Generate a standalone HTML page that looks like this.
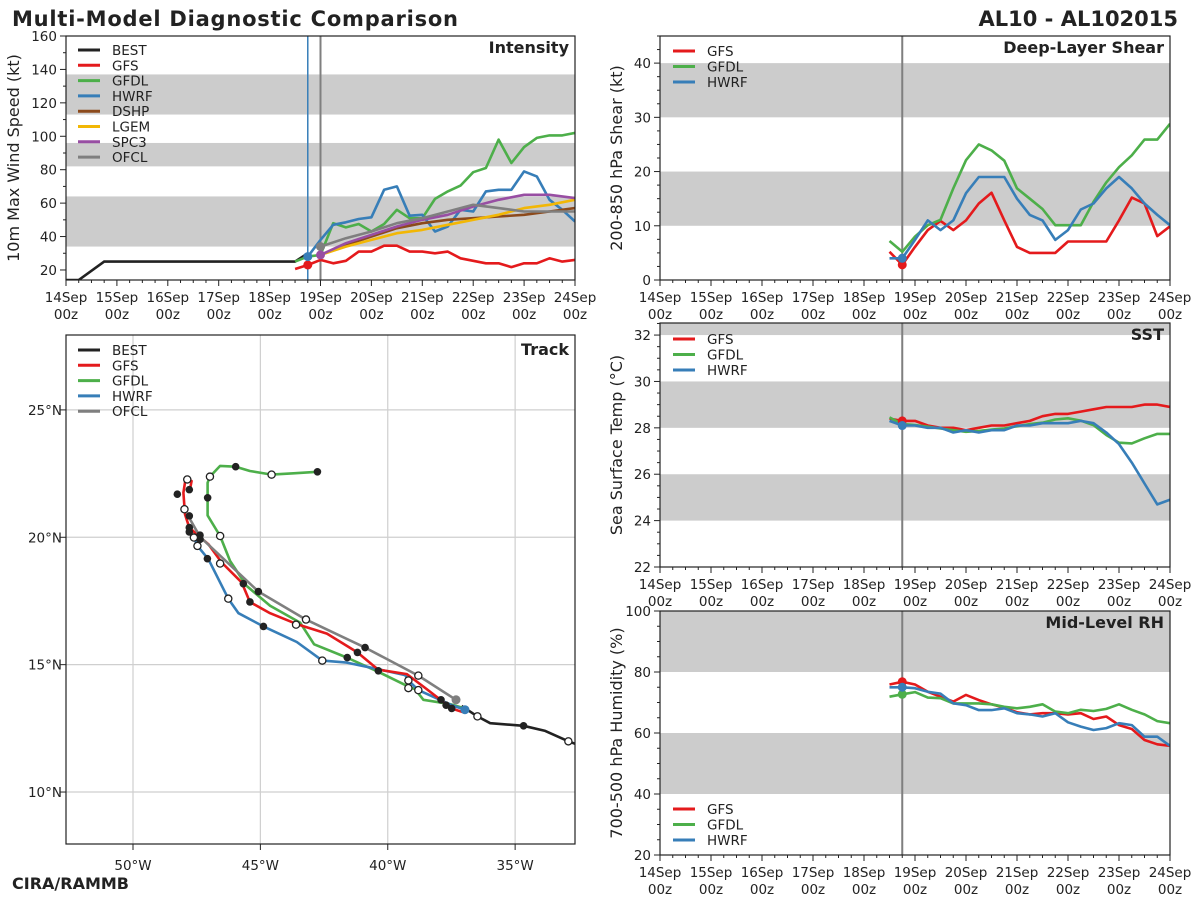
<!DOCTYPE html>
<html><head><meta charset="utf-8"><title>Multi-Model Diagnostic Comparison</title>
<style>
html,body{margin:0;padding:0;background:#fff;}
svg{display:block;font-family:"DejaVu Sans","Liberation Sans",sans-serif;}
</style></head>
<body>
<svg id="chart" xmlns="http://www.w3.org/2000/svg" width="1200" height="900" viewBox="0 0 1200 900">
<text x="12" y="26" font-size="21" font-weight="bold" fill="#222" textLength="446">Multi-Model Diagnostic Comparison</text>
<text x="1178" y="26" font-size="21" font-weight="bold" fill="#222" text-anchor="end">AL10 - AL102015</text>
<text x="12" y="889" font-size="16" font-weight="bold" fill="#222">CIRA/RAMMB</text>
</svg>
<script>
// ---------- data ----------
const dayLabels = ['14Sep','15Sep','16Sep','17Sep','18Sep','19Sep','20Sep','21Sep','22Sep','23Sep','24Sep'];
// intensity (kt) - best track [day, kt]
const bestTimes = [0, 0.25, 0.75, 4.25, 4.5, 4.75];
const bestInt = [14, 14, 25, 25, 25, 30];
// 6-hourly model intensity
const gfsIntStart = 4.5;
const gfsInt = [20.6,23,26,24,25.5,31,31,34.5,34.5,31,31,30,31,27,25.5,24,24,21.7,24,24,27,25,26];
const gfdlIntStart = 4.5;
const gfdlInt = [25,28,29,48,45.5,47.5,43,47.5,56,51,51,62.5,67,70.5,78.5,81,98,84,93.5,99,100.5,100.5,102];
const hwrfIntStart = 4.75;
const hwrfInt = [28,38,47,48.5,50.5,51.5,68,70,52.5,53,43,46,56,55,67,68,68,79,76,62,56,49];
// 12-hourly statistical / official from 19Sep00z
const consStart = 5.0;
const dshpInt = [29,35,40,45,48,50,51,52,53,55,57];
const lgemInt = [29,34,38,42,44,47,50,53,57,59,62];
const spc3Int = [29,36,41,46,50,53,58,62,65,65,63];
const ofclInt = [34,39,43,48,51,55,59,57,55,55,55];
// shear (kt), 6-hourly from 18Sep12z
const envStart = 4.5;
const gfsShear = [5.2,2.8,6.1,9.2,10.9,9.2,11,14.1,16.1,11,6.1,5,5,5,7.1,7.1,7.1,7.1,11,15.2,14.1,8.1,9.9];
const gfdlShear = [7.2,5.2,8,10.1,11.1,16.9,22.1,25,23.9,22,16.9,15,13.1,10.1,10.1,10.1,14.4,18,20.8,23,25.9,25.9,28.8];
const hwrfShear = [4,4,7.4,11,9.2,11,16,19,19,19,15,12,11,7.4,9.2,13,14.1,16.9,19,16.9,14.1,12,10.1];
// SST (C)
const gfsSst = [28.4,28.3,28.3,28.1,28.0,28.0,27.9,28.0,28.1,28.1,28.2,28.3,28.5,28.6,28.6,28.7,28.8,28.9,28.9,28.9,29.0,29.0,28.9];
const gfdlSst = [28.45,28.16,28.12,28.05,27.97,27.9,27.83,27.87,27.93,27.97,28.07,28.16,28.22,28.36,28.41,28.31,28.12,27.69,27.36,27.33,27.55,27.74,27.74];
const hwrfSst = [28.3,28.1,28.1,28.0,28.0,27.8,27.9,27.8,27.9,27.9,28.1,28.1,28.2,28.2,28.2,28.3,28.2,27.8,27.3,26.5,25.6,24.7,24.9];
// mid-level RH (%)
const gfsRh = [75.9,76.8,75.9,73.5,71.9,70.3,72.5,70.8,69.4,68.3,66.8,66.1,66.5,66.5,66.1,66.5,64.6,65.4,62.6,61.3,57.7,56.3,55.8];
const gfdlRh = [71.9,72.7,73.4,71.6,71.4,69.7,69.7,69.7,69.4,68.6,68.1,68.6,69.4,67,66.5,67.6,67.2,67.9,69.4,67.6,66.1,63.9,63.2];
const hwrfRh = [75,75,74.7,73.5,72.9,69.7,69.1,67.5,67.5,68.1,66.5,66.1,65.4,66.5,63.5,62.1,61,61.6,63.2,62.6,58.8,58.8,55.8];
// tracks [deg W, deg N]
const bestTrack = [[32.58,11.87],[32.91,11.99],[33.82,12.40],[34.67,12.60],[35.98,12.70],[36.48,12.97],[37.10,13.38]];
const gfsTrack = [[37.03,13.13],[37.49,13.28],[37.88,13.58],[38.47,14.04],[39.25,14.63],[40.37,14.80],[41.19,15.48],[42.39,16.22],[43.57,16.59],[44.62,17.02],[45.41,17.46],[45.73,18.22],[46.52,19.01],[47.04,19.73],[47.40,20.03],[47.79,20.38],[47.96,20.90],[48.02,21.75],[47.96,22.15],[47.83,22.27],[47.70,22.21],[47.74,22.01],[47.79,21.85]];
const gfdlTrack = [[37.10,13.32],[37.55,13.45],[38.60,13.62],[38.93,14.04],[39.19,14.14],[40.37,14.72],[41.61,15.28],[42.89,15.80],[43.44,16.65],[44.62,17.31],[45.54,18.09],[46.19,19.07],[46.58,20.05],[47.07,20.86],[47.07,21.55],[47.07,22.14],[46.98,22.38],[46.58,22.80],[45.97,22.77],[45.41,22.60],[44.56,22.46],[43.70,22.51],[42.76,22.57]];
const hwrfTrack = [[36.97,13.23],[37.42,13.38],[37.95,13.62],[38.80,14.00],[39.19,14.38],[39.32,14.59],[40.37,14.82],[41.61,15.08],[42.57,15.16],[43.57,15.89],[44.88,16.50],[45.86,17.02],[46.26,17.59],[47.04,19.14],[47.47,19.66],[47.61,19.99]];
const ofclTrack = [[37.32,13.62],[38.80,14.57],[40.89,15.67],[43.21,16.77],[45.08,17.87],[47.37,20.02],[47.76,20.70]];
const filledMarks = [[45.97,22.77],[42.76,22.57],[47.07,21.55],[47.79,21.87],[48.26,21.69],[47.79,20.84],[47.79,20.38],[47.79,20.21],[47.37,20.08],[47.37,19.92],[47.08,19.16],[45.67,18.18],[45.08,17.87],[45.41,17.46],[44.88,16.50],[40.89,15.67],[41.19,15.48],[41.59,15.28],[40.37,14.76],[37.91,13.62],[37.71,13.41],[37.49,13.28],[34.67,12.60]];
const openMarks = [[44.56,22.46],[46.98,22.38],[47.87,22.27],[47.98,21.10],[47.61,19.99],[47.47,19.66],[46.58,20.05],[46.58,18.97],[46.26,17.59],[43.21,16.77],[43.60,16.57],[42.57,15.16],[38.80,14.57],[39.19,14.38],[39.19,14.08],[38.80,14.00],[36.48,12.97],[32.91,11.99]];
const lonTicks = [50,45,40,35];
const latTicks = [10,15,20,25];

// ---------- drawing ----------
const NS = 'http://www.w3.org/2000/svg';
const svg = document.getElementById('chart');
const C = {BEST:'#222222',GFS:'#e41a1c',GFDL:'#4daf4a',HWRF:'#377eb8',DSHP:'#8c4a1c',LGEM:'#f2b705',SPC3:'#984ea3',OFCL:'#7f7f7f'};
function mk(tag, attrs, parent){
  const el = document.createElementNS(NS, tag);
  for (const k in attrs) el.setAttribute(k, attrs[k]);
  (parent || svg).appendChild(el);
  return el;
}
function txt(s, attrs, parent){ const t = mk('text', attrs, parent); t.textContent = s; return t; }

function panel(name, x0, x1, y0, y1, ymin, ymax){
  const g = mk('g', {});
  
  
  const clipId = name + '-clip';
  const cp = mk('clipPath', {id: clipId}, g);
  mk('rect', {x:x0, y:y0, width:x1-x0, height:y1-y0}, cp);
  return {g, x0, x1, y0, y1, ymin, ymax, clip:'url(#'+clipId+')',
    X: t => x0 + t*(x1-x0)/10,
    Y: v => y1 - (v-ymin)*(y1-y0)/(ymax-ymin)};
}
function bands(p, list){
  list.forEach(b => {
    const lo = Math.max(b[0], p.ymin), hi = Math.min(b[1], p.ymax);
    const r = mk('rect', {x:p.x0, y:p.Y(hi), width:p.x1-p.x0, height:p.Y(lo)-p.Y(hi), fill:'#cccccc'}, p.g);
    
    
  });
}
function frame(p){
  const r = mk('rect', {x:p.x0, y:p.y0, width:p.x1-p.x0, height:p.y1-p.y0, fill:'none', stroke:'#222', 'stroke-width':1.2}, p.g);
  
  
}
function timeAxis(p){
  for (let q = 0; q <= 40; q++){
    const x = p.X(q/4), major = q % 4 === 0;
    mk('line', {x1:x, x2:x, y1:p.y1, y2:p.y1+(major?6:3), stroke:'#222', 'stroke-width':1}, p.g);
    if (major){
      const t = txt(dayLabels[q/4], {x:x, y:p.y1+22, 'font-size':13.5, 'text-anchor':'middle', fill:'#222'}, p.g);
      
      
      const t2 = txt('00z', {x:x, y:p.y1+39, 'font-size':13.5, 'text-anchor':'middle', fill:'#222'}, p.g);
      
      
    }
  }
}
function yAxis(p, major, minor, start, label, lx){
  for (let v = start; v <= p.ymax + 1e-6; v += minor){
    const y = p.Y(v);
    const isMaj = Math.abs((v - start) / major - Math.round((v - start) / major)) < 1e-6;
    mk('line', {x1:p.x0-(isMaj?6:3), x2:p.x0, y1:y, y2:y, stroke:'#222', 'stroke-width':1}, p.g);
    if (isMaj){
      const t = txt(String(Math.round(v)), {x:p.x0-9, y:y+5, 'font-size':13.5, 'text-anchor':'end', fill:'#222'}, p.g);
      
      
    }
  }
  const cy = (p.y0 + p.y1) / 2;
  const yl = txt(label, {x:lx, y:cy, 'font-size':16, 'text-anchor':'middle', fill:'#222', transform:'rotate(-90 '+lx+' '+cy+')'}, p.g);
  
  
}
function title(p, s){
  const t = txt(s, {x:p.x1-6, y:p.y0+17, 'font-size':16, 'font-weight':'bold', 'text-anchor':'end', fill:'#222'}, p.g);
  
  
}
function series(p, start, step, vals, color, name, w){
  const pts = vals.map((v,i) => p.X(start + i*step).toFixed(1) + ',' + p.Y(v).toFixed(1)).join(' ');
  const l = mk('polyline', {points:pts, fill:'none', stroke:color, 'stroke-width':w||2.6, 'stroke-linejoin':'round', 'clip-path':p.clip}, p.g);
  
  
  return l;
}
function dot(p, t, v, color, name){
  const c = mk('circle', {cx:p.X(t), cy:p.Y(v), r:4.5, fill:color}, p.g);
  
  
}
function vline(p, t, color, w){
  const l = mk('line', {x1:p.X(t), x2:p.X(t), y1:p.y0, y2:p.y1, stroke:color, 'stroke-width':w}, p.g);
  
  
}
function legend(p, x, y, names, dy){
  names.forEach((n,i) => {
    const yy = y + i*dy;
    const l = mk('line', {x1:x, x2:x+22, y1:yy, y2:yy, stroke:C[n], 'stroke-width':3}, p.g);
    
    
    const t = txt(n, {x:x+34, y:yy+5, 'font-size':13.5, fill:'#222'}, p.g);
    
    
  });
}

// ---- Intensity ----
const pI = panel('intensity', 66, 575, 36, 280, 14, 160);
bands(pI, [[34,64],[82,96],[113,137]]);
yAxis(pI, 20, 10, 20, '10m Max Wind Speed (kt)', 19);
timeAxis(pI);
vline(pI, 4.75, C.HWRF, 1.5);
vline(pI, 5.0, '#7f7f7f', 2);
(function(){
  const pts = bestTimes.map((t,i) => pI.X(t).toFixed(1)+','+pI.Y(bestInt[i]).toFixed(1)).join(' ');
  const l = mk('polyline', {points:pts, fill:'none', stroke:C.BEST, 'stroke-width':2.6, 'clip-path':pI.clip}, pI.g);
  
  
})();
series(pI, gfsIntStart, 0.25, gfsInt, C.GFS, 'gfs-intensity-line');
series(pI, gfdlIntStart, 0.25, gfdlInt, C.GFDL, 'gfdl-intensity-line');
series(pI, hwrfIntStart, 0.25, hwrfInt, C.HWRF, 'hwrf-intensity-line');
series(pI, consStart, 0.5, dshpInt, C.DSHP, 'dshp-intensity-line');
series(pI, consStart, 0.5, lgemInt, C.LGEM, 'lgem-intensity-line');
series(pI, consStart, 0.5, spc3Int, C.SPC3, 'spc3-intensity-line');
series(pI, consStart, 0.5, ofclInt, C.OFCL, 'ofcl-intensity-line');
dot(pI, gfsIntStart+0.25, gfsInt[1], C.GFS, 'gfs-init-dot');
dot(pI, hwrfIntStart, hwrfInt[0], C.HWRF, 'hwrf-init-dot');
dot(pI, consStart, ofclInt[0], C.OFCL, 'ofcl-init-dot');
dot(pI, consStart, spc3Int[0], C.SPC3, 'spc3-init-dot');
frame(pI);
title(pI, 'Intensity');
legend(pI, 78, 50, ['BEST','GFS','GFDL','HWRF','DSHP','LGEM','SPC3','OFCL'], 15.3);

// ---- Shear ----
const pS = panel('shear', 660, 1170, 36, 280, 0, 45);
bands(pS, [[10,20],[30,40]]);
yAxis(pS, 10, 2.5, 0, '200-850 hPa Shear (kt)', 622);
timeAxis(pS);
vline(pS, 4.75, '#7f7f7f', 2);
series(pS, envStart, 0.25, gfsShear, C.GFS, 'gfs-shear-line');
series(pS, envStart, 0.25, gfdlShear, C.GFDL, 'gfdl-shear-line');
series(pS, envStart, 0.25, hwrfShear, C.HWRF, 'hwrf-shear-line');
dot(pS, 4.75, gfsShear[1], C.GFS, 'gfs-shear-dot');
dot(pS, 4.75, hwrfShear[1], C.HWRF, 'hwrf-shear-dot');
frame(pS);
title(pS, 'Deep-Layer Shear');
legend(pS, 673, 51, ['GFS','GFDL','HWRF'], 15.5);

// ---- SST ----
const pT = panel('sst', 660, 1170, 323, 567, 22, 32.52);
bands(pT, [[24,26],[28,30],[32,34]]);
yAxis(pT, 2, 0.5, 22, 'Sea Surface Temp (°C)', 622);
timeAxis(pT);
vline(pT, 4.75, '#7f7f7f', 2);
series(pT, envStart, 0.25, gfsSst, C.GFS, 'gfs-sst-line');
series(pT, envStart, 0.25, gfdlSst, C.GFDL, 'gfdl-sst-line');
series(pT, envStart, 0.25, hwrfSst, C.HWRF, 'hwrf-sst-line');
dot(pT, 4.75, gfsSst[1], C.GFS, 'gfs-sst-dot');
dot(pT, 4.75, hwrfSst[1], C.HWRF, 'hwrf-sst-dot');
frame(pT);
title(pT, 'SST');
legend(pT, 673, 339, ['GFS','GFDL','HWRF'], 15.5);

// ---- RH ----
const pR = panel('rh', 660, 1170, 611, 855, 20, 100);
bands(pR, [[40,60],[80,100]]);
yAxis(pR, 20, 5, 20, '700-500 hPa Humidity (%)', 622);
timeAxis(pR);
vline(pR, 4.75, '#7f7f7f', 2);
series(pR, envStart, 0.25, gfsRh, C.GFS, 'gfs-rh-line');
series(pR, envStart, 0.25, gfdlRh, C.GFDL, 'gfdl-rh-line');
series(pR, envStart, 0.25, hwrfRh, C.HWRF, 'hwrf-rh-line');
dot(pR, 4.75, gfsRh[1], C.GFS, 'gfs-rh-dot');
dot(pR, 4.75, gfdlRh[1], C.GFDL, 'gfdl-rh-dot');
dot(pR, 4.75, hwrfRh[1], C.HWRF, 'hwrf-rh-dot');
frame(pR);
title(pR, 'Mid-Level RH');
legend(pR, 673, 809, ['GFS','GFDL','HWRF'], 15.5);

// ---- Track ----
const tk = {x0:66, x1:575, y0:335, y1:844, wMax:52.63, wMin:32.65, nMin:7.96, nMax:27.94};
const TX = w => tk.x0 + (tk.wMax - w) * (tk.x1 - tk.x0) / (tk.wMax - tk.wMin);
const TY = n => tk.y1 - (n - tk.nMin) * (tk.y1 - tk.y0) / (tk.nMax - tk.nMin);
const gT = mk('g', {});


const cpT = mk('clipPath', {id:'track-clip'}, gT);
mk('rect', {x:tk.x0, y:tk.y0, width:tk.x1-tk.x0, height:tk.y1-tk.y0}, cpT);
lonTicks.forEach(w => {
  const gl = mk('line', {x1:TX(w), x2:TX(w), y1:tk.y0, y2:tk.y1, stroke:'#cfcfcf', 'stroke-width':1.2}, gT);
  
  
  mk('line', {x1:TX(w), x2:TX(w), y1:tk.y1, y2:tk.y1+6, stroke:'#222'}, gT);
  const t = txt(w + '°W', {x:TX(w), y:tk.y1+26, 'font-size':13.5, 'text-anchor':'middle', fill:'#222'}, gT);
  
  
});
latTicks.forEach(n => {
  const gl = mk('line', {x1:tk.x0, x2:tk.x1, y1:TY(n), y2:TY(n), stroke:'#cfcfcf', 'stroke-width':1.2}, gT);
  
  
  mk('line', {x1:tk.x0-6, x2:tk.x0, y1:TY(n), y2:TY(n), stroke:'#222'}, gT);
  const t = txt(n + '°N', {x:tk.x0-4, y:TY(n)+5, 'font-size':13.5, 'text-anchor':'end', fill:'#222'}, gT);
  
  
});
function trackLine(arr, color, name){
  const pts = arr.map(d => TX(d[0]).toFixed(1) + ',' + TY(d[1]).toFixed(1)).join(' ');
  const l = mk('polyline', {points:pts, fill:'none', stroke:color, 'stroke-width':2.6, 'stroke-linejoin':'round', 'clip-path':'url(#track-clip)'}, gT);
  
  
}
trackLine(bestTrack, C.BEST, 'best-track-line');
trackLine(gfdlTrack, C.GFDL, 'gfdl-track-line');
trackLine(hwrfTrack, C.HWRF, 'hwrf-track-line');
trackLine(gfsTrack, C.GFS, 'gfs-track-line');
trackLine(ofclTrack, C.OFCL, 'ofcl-track-line');
filledMarks.forEach(d => {
  const c = mk('circle', {cx:TX(d[0]), cy:TY(d[1]), r:3.8, fill:'#222'}, gT);
  
  
});
openMarks.forEach(d => {
  const c = mk('circle', {cx:TX(d[0]), cy:TY(d[1]), r:3.6, fill:'#fff', stroke:'#222', 'stroke-width':1.3}, gT);
  
  
});
(function(){
  const c1 = mk('circle', {cx:TX(ofclTrack[0][0]), cy:TY(ofclTrack[0][1]), r:4.5, fill:C.OFCL}, gT);
  
  
  const c2 = mk('circle', {cx:TX(hwrfTrack[0][0]), cy:TY(hwrfTrack[0][1]), r:4.5, fill:C.HWRF}, gT);
  
  
})();
const frT = mk('rect', {x:tk.x0, y:tk.y0, width:tk.x1-tk.x0, height:tk.y1-tk.y0, fill:'none', stroke:'#222', 'stroke-width':1.2}, gT);


const ttT = txt('Track', {x:tk.x1-6, y:tk.y0+20, 'font-size':16, 'font-weight':'bold', 'text-anchor':'end', fill:'#222'}, gT);


legend({g:gT}, 78, 350, ['BEST','GFS','GFDL','HWRF','OFCL'], 15.3);
</script>
</body></html>
